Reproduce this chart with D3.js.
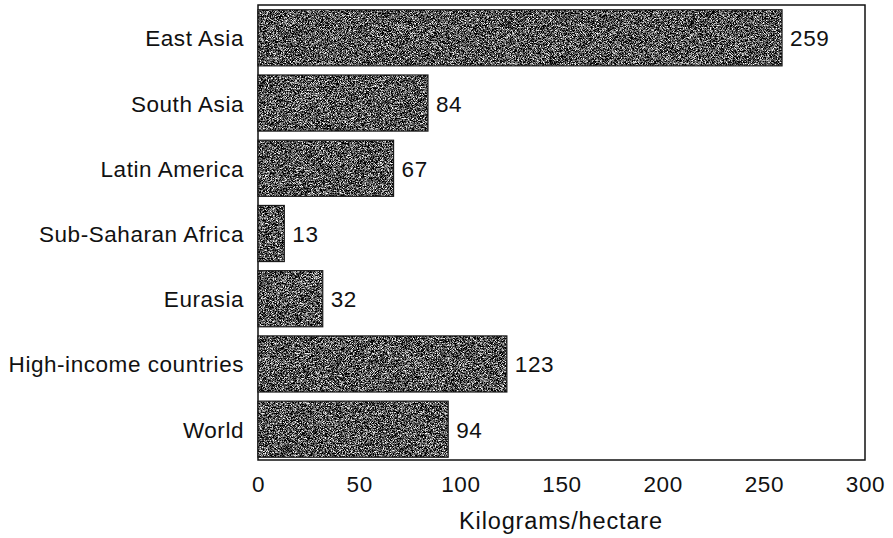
<!DOCTYPE html>
<html>
<head>
<meta charset="utf-8">
<script src="https://cdn.jsdelivr.net/npm/d3@7/dist/d3.min.js"></script>
<style>
  html, body { margin: 0; padding: 0; background: #fff; }
  svg { display: block; font-family: "Liberation Sans", Arial, sans-serif; }
</style>
</head>
<body>
<svg id="chart" width="893" height="538"></svg>
<script>
// Fertilizer use by region, kilograms per hectare
const regions = ["East Asia", "South Asia", "Latin America", "Sub-Saharan Africa", "Eurasia", "High-income countries", "World"];
const values = [259, 84, 67, 13, 32, 123, 94];
const xTicks = [0, 50, 100, 150, 200, 250, 300];
const xTitle = "Kilograms/hectare";

const svg = d3.select("#chart");
const plotLeft = 258, plotRight = 865, plotTop = 5, plotBottom = 460;
const fontSize = 22.5;

const x = d3.scaleLinear().domain([0, 300]).range([plotLeft, plotRight]);
const y = d3.scaleBand().domain(regions).range([plotTop + 1.5, plotBottom + 0.5]).paddingInner(0.14).paddingOuter(0.05);

// grainy grey texture for the bars
const defs = svg.append("defs");
const f = defs.append("filter").attr("id", "grain").attr("x", 0).attr("y", 0).attr("width", 1).attr("height", 1)
  .attr("color-interpolation-filters", "sRGB");
f.append("feTurbulence").attr("type", "fractalNoise").attr("baseFrequency", 1.4).attr("numOctaves", 2).attr("seed", 7).attr("result", "noise");
f.append("feColorMatrix").attr("in", "noise").attr("type", "matrix")
  .attr("values", "2.8 0 0 0 -1.08  2.8 0 0 0 -1.08  2.8 0 0 0 -1.08  0 0 0 0 1").attr("result", "grey");
f.append("feComposite").attr("in", "grey").attr("in2", "SourceGraphic").attr("operator", "in");

// plot frame
svg.append("rect")
  .attr("x", plotLeft).attr("y", plotTop)
  .attr("width", plotRight - plotLeft).attr("height", plotBottom - plotTop)
  .attr("fill", "none").attr("stroke", "#111").attr("stroke-width", 1.5);

// bars
svg.append("g").selectAll("rect").data(regions).join("rect")
  .attr("x", x(0))
  .attr("y", d => y(d))
  .attr("width", (d, i) => x(values[i]) - x(0))
  .attr("height", y.bandwidth())
  .attr("fill", "#666")
  .attr("filter", "url(#grain)");
svg.append("g").selectAll("rect").data(regions).join("rect")
  .attr("x", x(0))
  .attr("y", d => y(d))
  .attr("width", (d, i) => x(values[i]) - x(0))
  .attr("height", y.bandwidth())
  .attr("fill", "none").attr("stroke", "#1a1a1a").attr("stroke-width", 1.2);

// value labels
svg.append("g").selectAll("text").data(regions).join("text")
  .attr("x", (d, i) => x(values[i]) + 8)
  .attr("y", d => y(d) + y.bandwidth() / 2 + 8.5)
  .attr("font-size", fontSize).attr("fill", "#111").attr("letter-spacing", 0.6)
  .text((d, i) => values[i]);

// category axis
const yAxis = svg.append("g").attr("transform", `translate(${plotLeft},0)`)
  .call(d3.axisLeft(y).tickSize(0).tickPadding(14));
yAxis.select(".domain").remove();
yAxis.selectAll("text").attr("dy", null).attr("y", 8.5).attr("letter-spacing", 0.55)
  .attr("font-size", fontSize).attr("fill", "#111").attr("font-family", "Liberation Sans, Arial, sans-serif");

// value axis
const xAxis = svg.append("g").attr("transform", `translate(0,${plotBottom})`)
  .call(d3.axisBottom(x).tickValues(xTicks).tickSize(0));
xAxis.select(".domain").remove();
xAxis.selectAll("text").attr("dy", null).attr("y", 32).attr("letter-spacing", 0.6)
  .attr("font-size", fontSize).attr("fill", "#111").attr("font-family", "Liberation Sans, Arial, sans-serif");

svg.append("text")
  .attr("x", 561).attr("y", 529)
  .attr("text-anchor", "middle")
  .attr("font-size", 23.5).attr("fill", "#111").attr("letter-spacing", 0.85)
  .text(xTitle);
</script>
</body>
</html>
